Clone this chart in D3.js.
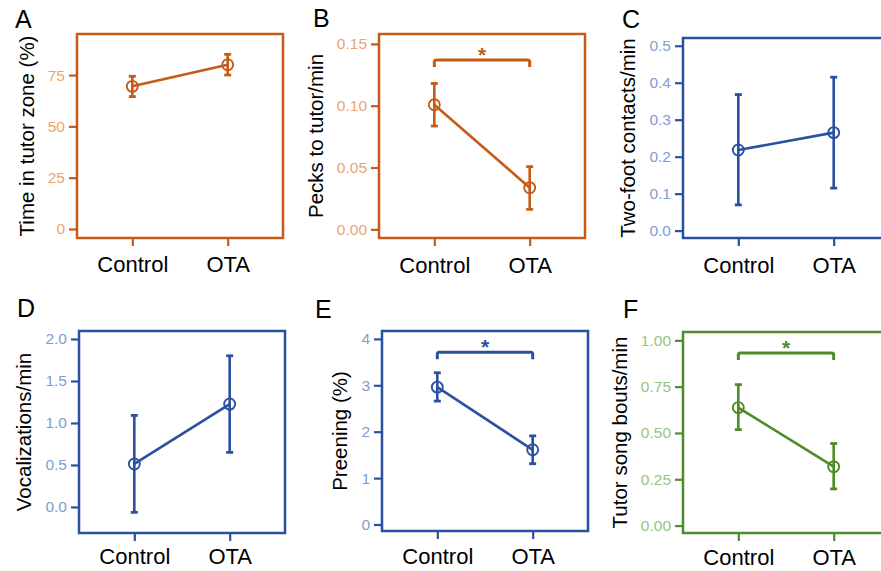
<!DOCTYPE html>
<html><head><meta charset="utf-8">
<script src="https://cdn.jsdelivr.net/npm/d3@7"></script>
<style>
html,body{margin:0;padding:0;background:#fff;}
svg{display:block;font-family:"Liberation Sans",Arial,Helvetica,sans-serif;}
</style></head>
<body>
<svg id="chart" width="881" height="571"></svg>
<script>
// ---- data ----
const categories = ["Control", "OTA"];
const panelLetters = ["A", "B", "C", "D", "E", "F"];
const yTitles = ["Time in tutor zone (%)", "Pecks to tutor/min", "Two-foot contacts/min",
                 "Vocalizations/min", "Preening (%)", "Tutor song bouts/min"];
const meanA = [69.5, 80.0],   lowA = [64.5, 75.0],   highA = [74.4, 85.1];
const meanB = [0.1008, 0.0337], lowB = [0.0836, 0.0162], highB = [0.118, 0.0507];
const meanC = [0.218, 0.265], lowC = [0.0696, 0.115], highC = [0.368, 0.415];
const meanD = [0.512, 1.225], lowD = [-0.064, 0.65],  highD = [1.09, 1.80];
const meanE = [2.96, 1.61],   lowE = [2.66, 1.31],    highE = [3.27, 1.91];
const meanF = [0.637, 0.318], lowF = [0.518, 0.198],  highF = [0.761, 0.443];
const ticksA = [0, 25, 50, 75];
const ticksB = [0, 0.05, 0.10, 0.15];
const ticksC = [0, 0.1, 0.2, 0.3, 0.4, 0.5];
const ticksD = [0, 0.5, 1.0, 1.5, 2.0];
const ticksE = [0, 1, 2, 3, 4];
const ticksF = [0, 0.25, 0.50, 0.75, 1.00];
const tickFormats = ["d", ".2f", ".1f", ".1f", "d", ".2f"];
const yDomains = [[-4.4, 95], [-0.007, 0.158], [-0.02, 0.521], [-0.31, 2.095], [-0.14, 4.17], [-0.04, 1.045]];
const significance = [null, 0.137, null, null, 3.71, 0.932]; // bracket height ("*")

// ---- styles / layout ----
const orange = {dark: "#c65a17", light: "#eba473"};
const blue = {dark: "#2a51a1", light: "#7f9dd6"};
const green = {dark: "#4f8b29", light: "#97c47d"};
const palettes = [orange, orange, blue, blue, blue, green];
const boxes = [
  {x: 77,  y: 34,  w: 206, h: 204, lx: 15,  ly: 28,  pad: 10.5},
  {x: 379, y: 34,  w: 206, h: 204, lx: 313, ly: 27,  pad: 11},
  {x: 683, y: 38,  w: 206, h: 200, lx: 622, ly: 28,  pad: 11},
  {x: 79,  y: 331, w: 206, h: 202, lx: 17,  ly: 317, pad: 7.5},
  {x: 382, y: 331, w: 206, h: 200, lx: 315, ly: 318, pad: 9},
  {x: 683, y: 332, w: 206, h: 201, lx: 623, ly: 318, pad: 8}
];
const means = [meanA, meanB, meanC, meanD, meanE, meanF];
const lows = [lowA, lowB, lowC, lowD, lowE, lowF];
const highs = [highA, highB, highC, highD, highE, highF];
const tickSets = [ticksA, ticksB, ticksC, ticksD, ticksE, ticksF];

const svg = d3.select("#chart");

panelLetters.forEach((letter, i) => {
  const b = boxes[i], pal = palettes[i];
  const g = svg.append("g");
  const x = d3.scalePoint().domain(categories).range([b.x, b.x + b.w]).padding(0.58);
  const y = d3.scaleLinear().domain(yDomains[i]).range([b.y + b.h, b.y]);

  // panel letter
  svg.append("text").attr("x", b.lx).attr("y", b.ly).attr("font-size", 25)
    .attr("fill", "#000").text(letter);

  // y axis
  const yAxis = g.append("g").attr("transform", `translate(${b.x - 1},0)`)
    .call(d3.axisLeft(y).tickValues(tickSets[i]).tickFormat(d3.format(tickFormats[i]))
      .tickSize(7).tickSizeOuter(0).tickPadding(4));
  yAxis.attr("font-size", 15.5).attr("font-family", "'Liberation Sans',Arial,sans-serif");
  yAxis.select(".domain").remove();
  yAxis.selectAll(".tick line").attr("stroke", pal.dark).attr("stroke-width", 2.2);
  yAxis.selectAll(".tick text").attr("fill", pal.light);

  // x axis
  const xAxis = g.append("g").attr("transform", `translate(0,${b.y + b.h + 1})`)
    .call(d3.axisBottom(x).tickSize(7).tickSizeOuter(0).tickPadding(b.pad));
  xAxis.attr("font-size", 22).attr("font-family", "'Liberation Sans',Arial,sans-serif");
  xAxis.select(".domain").remove();
  xAxis.selectAll(".tick line").attr("stroke", pal.dark).attr("stroke-width", 2.2);
  xAxis.selectAll(".tick text").attr("fill", "#000");

  // box
  g.append("rect").attr("x", b.x).attr("y", b.y).attr("width", b.w).attr("height", b.h)
    .attr("fill", "none").attr("stroke", pal.dark).attr("stroke-width", 2.5);

  // y title
  const bb = yAxis.node().getBBox();
  const tx = (b.x - 1) + bb.x - 14, ty = b.y + b.h / 2;
  svg.append("text").attr("transform", `translate(${tx},${ty}) rotate(-90)`)
    .attr("text-anchor", "middle").attr("font-size", 20.5).attr("fill", "#000")
    .text(yTitles[i]);

  const pts = categories.map((c, k) => ({c, m: means[i][k], lo: lows[i][k], hi: highs[i][k]}));

  // connecting line
  g.append("path").datum(pts)
    .attr("d", d3.line().x(d => x(d.c)).y(d => y(d.m)))
    .attr("fill", "none").attr("stroke", pal.dark).attr("stroke-width", 2.6);

  // error bars
  const eb = g.selectAll(".eb").data(pts).enter().append("g");
  eb.append("line").attr("x1", d => x(d.c)).attr("x2", d => x(d.c))
    .attr("y1", d => y(d.lo)).attr("y2", d => y(d.hi))
    .attr("stroke", pal.dark).attr("stroke-width", 2.6);
  ["lo", "hi"].forEach(k => {
    eb.append("line").attr("x1", d => x(d.c) - 3.5).attr("x2", d => x(d.c) + 3.5)
      .attr("y1", d => y(d[k])).attr("y2", d => y(d[k]))
      .attr("stroke", pal.dark).attr("stroke-width", 2.8);
  });
  // points
  eb.append("circle").attr("cx", d => x(d.c)).attr("cy", d => y(d.m)).attr("r", 5.5)
    .attr("fill", "none").attr("stroke", pal.dark).attr("stroke-width", 1.9);

  // significance bracket
  if (significance[i] !== null) {
    const by = y(significance[i]);
    const x1 = x(categories[0]), x2 = x(categories[1]);
    const leg = 7, r = 2;
    g.append("path")
      .attr("d", `M${x1},${by + leg} V${by + r} Q${x1},${by} ${x1 + r},${by} H${x2 - r} Q${x2},${by} ${x2},${by + r} V${by + leg}`)
      .attr("fill", "none").attr("stroke", pal.dark).attr("stroke-width", 3);
    g.append("text").attr("x", (x1 + x2) / 2).attr("y", by + 2)
      .attr("text-anchor", "middle").attr("font-size", 21).attr("font-weight", "bold")
      .attr("fill", pal.dark).text("*");
  }
});
</script>
</body></html>
